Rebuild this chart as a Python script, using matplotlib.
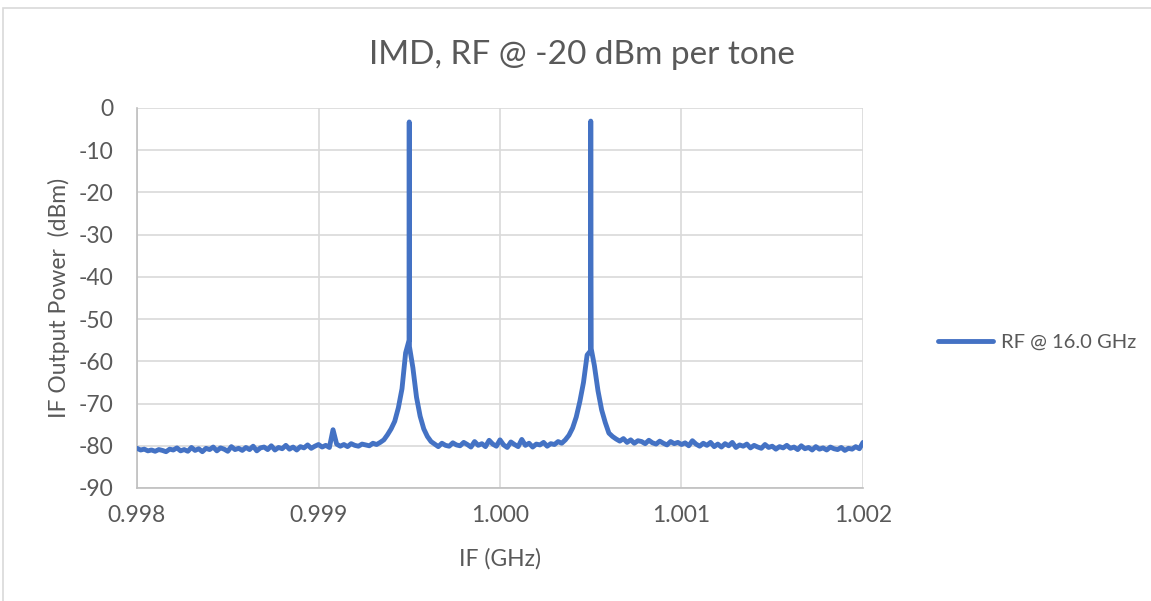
import matplotlib
matplotlib.use('Agg')
import matplotlib.pyplot as plt
import numpy as np
from matplotlib.patches import Rectangle

plt.rcParams['font.family'] = ['Lato', 'DejaVu Sans']
plt.rcParams['axes.unicode_minus'] = False

text_col = '#595959'
line_col = '#4472C4'

# spectrum analyzer trace, 201 points from 0.998 to 1.002 GHz
freq_start = 0.998
freq_stop = 1.002
power = [
    -80.6, -81.0, -80.8, -81.2, -81.0, -81.3, -80.9, -81.1, -81.4, -80.8,
    -81.0, -80.5, -81.2, -80.9, -81.3, -80.4, -81.1, -80.7, -81.4, -80.6,
    -80.9, -80.3, -81.2, -80.5, -80.8, -81.3, -80.2, -80.9, -80.6, -81.1,
    -80.4, -80.9, -80.1, -81.2, -80.5, -80.3, -80.9, -80.0, -81.0, -80.4,
    -80.7, -79.9, -80.8, -80.3, -81.0, -80.2, -80.5, -79.8, -80.6, -80.1,
    -79.7, -80.3, -79.9, -80.4, -76.2, -79.6, -80.1, -79.7, -80.2, -79.5,
    -79.9, -80.1, -79.6, -79.8, -80.0, -79.4, -79.7, -79.2,
    -78.6, -77.4, -76.0, -74.2, -71.0, -66.5, -58.0,
    -3.3,
    -61.5, -68.5, -73.0, -76.0, -77.8, -79.0,
    -79.6, -80.2, -79.4, -79.9, -80.1, -79.3, -79.8, -80.0,
    -79.2, -79.7, -80.3, -79.0, -79.9, -79.5, -80.2, -78.7, -79.6, -80.1,
    -78.6, -79.8, -80.4, -79.1, -79.7, -80.2, -78.5, -79.9, -79.4, -80.3,
    -79.6, -79.8, -79.2, -80.1, -79.5, -79.7, -79.0, -79.4,
    -78.6, -77.5, -75.8, -73.2, -69.5, -65.0, -58.5,
    -3.1,
    -61.0, -67.0, -71.5, -74.5, -77.0, -77.8, -78.4,
    -78.9, -78.3, -79.2, -78.6, -79.4, -78.8, -79.0, -79.5, -78.7, -79.3,
    -79.6, -78.9, -79.4, -79.8, -79.0, -79.5, -79.2,
    -79.7, -79.3, -80.0, -78.8, -79.6, -80.1, -79.4, -79.9, -79.2, -80.2,
    -79.6, -80.3, -79.5, -80.0, -79.2, -80.4, -79.8, -80.1, -79.6, -80.5,
    -79.9, -80.3, -80.6, -79.7, -80.4, -80.1, -80.8, -80.2, -80.5, -79.9,
    -80.6, -80.3, -80.9, -80.0, -80.7, -80.4, -81.0, -80.2, -80.8, -80.5,
    -81.0, -80.3, -80.7, -80.9, -80.4, -81.1, -80.6, -80.8, -80.2, -80.7,
    -79.2,
]
# extra points on the skirts right next to the two tones
skirt_freq = [0.999499, 0.999501, 1.000499, 1.000501, 1.0005025]
skirt_power = [-55.0, -56.5, -57.5, -37.5, -57.0]

freq = np.linspace(freq_start, freq_stop, len(power))
f_all = np.concatenate([freq, skirt_freq])
p_all = np.concatenate([power, skirt_power])
order = np.argsort(f_all)

fig = plt.figure(figsize=(11.51, 6.01), dpi=100)
ax = fig.add_axes([137 / 1151, 1 - 488 / 601, (863 - 137) / 1151, (488 - 108) / 601])

ax.plot(f_all[order], p_all[order], color=line_col, lw=3.5, label='RF @ 16.0 GHz',
        solid_joinstyle='round', solid_capstyle='round', zorder=3)

ax.set_xlim(0.998, 1.002)
ax.set_ylim(-90, 0)
ax.set_xticks([0.998, 0.999, 1.000, 1.001, 1.002])
ax.set_xticklabels(['0.998', '0.999', '1.000', '1.001', '1.002'])
ax.set_yticks(np.arange(-90, 1, 10))
ax.grid(True, color='#D9D9D9', lw=1.2, zorder=0)
ax.tick_params(length=0, labelsize=16.5, colors=text_col)
ax.tick_params(axis='y', pad=17)
ax.tick_params(axis='x', pad=12)
for s in ['top', 'right']:
    ax.spines[s].set_visible(False)
for s in ['left', 'bottom']:
    ax.spines[s].set_color('#BFBFBF')
    ax.spines[s].set_linewidth(1.2)

fig.text(582 / 1151, 1 - 55 / 601, 'IMD, RF @ -20 dBm per tone', fontsize=24,
         color=text_col, ha='center', va='center')
ax.set_xlabel('IF (GHz)', fontsize=16.5, color=text_col, labelpad=16)
ax.set_ylabel('IF Output Power  (dBm)', fontsize=16.5, color=text_col, labelpad=6)

leg = fig.legend(loc='center left', bbox_to_anchor=(920 / 1151, 1 - 342 / 601),
                 frameon=False, fontsize=14.5, handlelength=2.7, handletextpad=0.4)
for t in leg.get_texts():
    t.set_color(text_col)

fig.patches.append(Rectangle((3 / 1151, -0.02), 1.2, 1 - 8 / 601 + 0.02,
                             transform=fig.transFigure, fill=False,
                             edgecolor='#D9D9D9', lw=1.2))

fig.savefig('out.png', dpi=100)
